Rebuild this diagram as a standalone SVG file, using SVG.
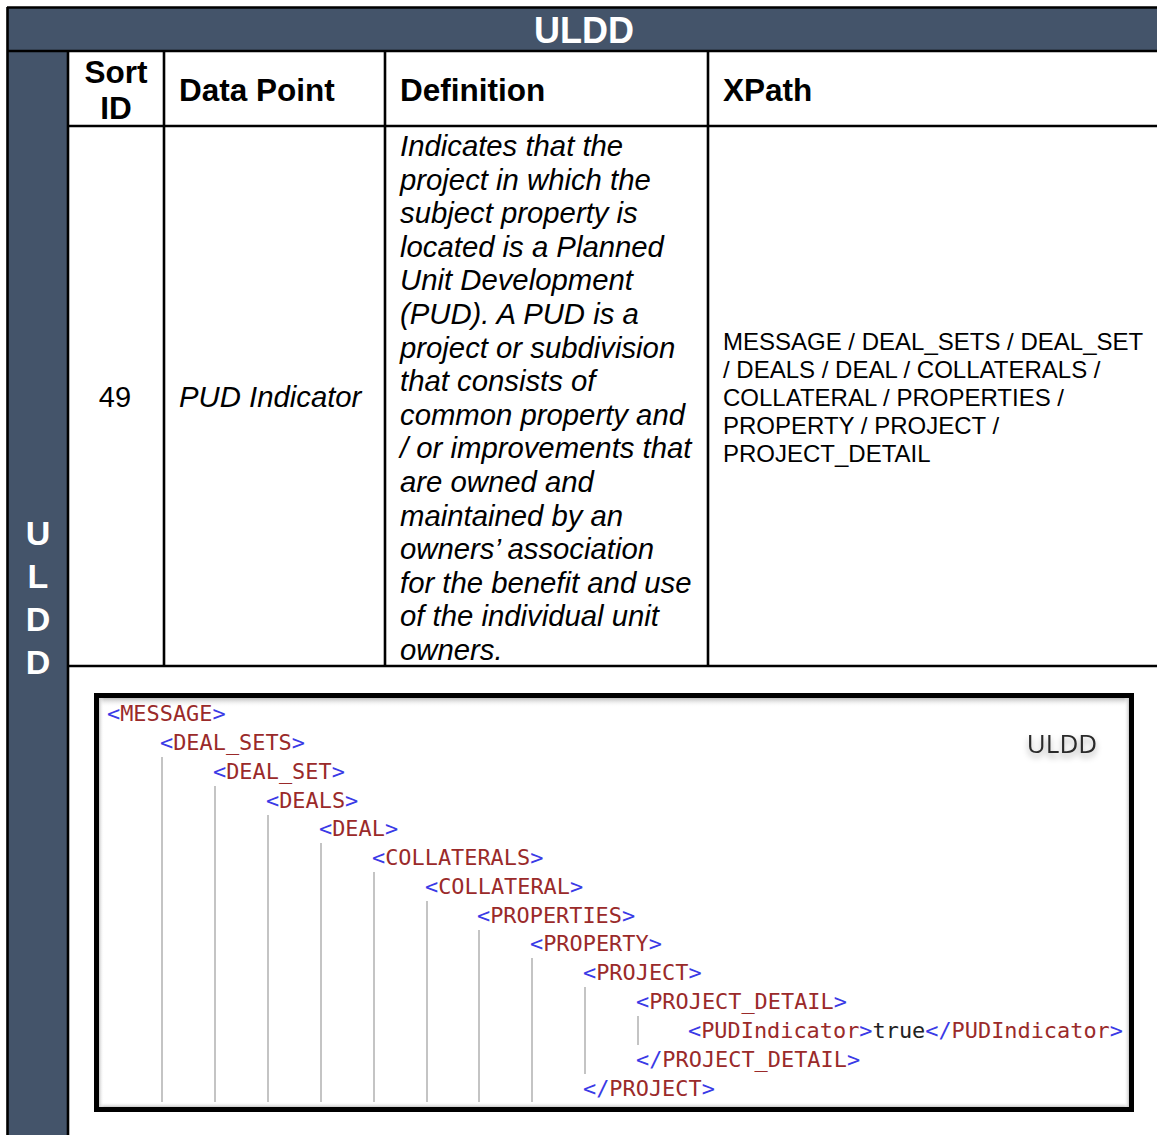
<svg xmlns="http://www.w3.org/2000/svg" width="1157" height="1135" viewBox="0 0 1157 1135">
<defs>
<style>
.grid{stroke:#000;stroke-width:2.6;fill:none}
.hd{font-family:"Liberation Sans",Arial,sans-serif;font-weight:bold;font-size:31.5px;fill:#000}
.wb{font-family:"Liberation Sans",Arial,sans-serif;font-weight:bold;fill:#fff}
.it{font-family:"Liberation Sans",Arial,sans-serif;font-style:italic;font-size:29.3px;fill:#000}
.rg{font-family:"Liberation Sans",Arial,sans-serif;font-size:29px;fill:#000}
.xp{font-family:"Liberation Sans",Arial,sans-serif;font-size:24px;fill:#000}
.x{font-family:"DejaVu Sans Mono","Liberation Mono",monospace;font-size:21.9px}
.b{fill:#3a3ae6}
.n{fill:#9a2a2a}
.v{fill:#222}
.g{stroke:#c4c4c4;stroke-width:2}
</style>
<linearGradient id="gt" x1="0" y1="0" x2="0" y2="1"><stop offset="0" stop-color="#bdbdbd"/><stop offset="1" stop-color="#fff" stop-opacity="0"/></linearGradient>
<linearGradient id="gb" x1="0" y1="1" x2="0" y2="0"><stop offset="0" stop-color="#c8c8c8"/><stop offset="1" stop-color="#fff" stop-opacity="0"/></linearGradient>
<linearGradient id="gl" x1="0" y1="0" x2="1" y2="0"><stop offset="0" stop-color="#c8c8c8"/><stop offset="1" stop-color="#fff" stop-opacity="0"/></linearGradient>
<linearGradient id="gr" x1="1" y1="0" x2="0" y2="0"><stop offset="0" stop-color="#c8c8c8"/><stop offset="1" stop-color="#fff" stop-opacity="0"/></linearGradient>
<filter id="sh" x="-20%" y="-40%" width="140%" height="200%"><feDropShadow dx="0" dy="4" stdDeviation="3" flood-color="#000" flood-opacity="0.35"/></filter>
</defs>
<rect width="1157" height="1135" fill="#fff"/>

<g id="table-frame">
<rect x="7" y="7" width="1150" height="44" fill="#44546A"/>
<rect x="7" y="51" width="61" height="1084" fill="#44546A"/>
<line class="grid" x1="7" y1="7.5" x2="1157" y2="7.5"/>
<line class="grid" x1="7.5" y1="7" x2="7.5" y2="1135"/>
<line class="grid" x1="7" y1="51" x2="1157" y2="51"/>
<line class="grid" x1="68" y1="51" x2="68" y2="1135"/>
<line class="grid" x1="164" y1="51" x2="164" y2="666"/>
<line class="grid" x1="385" y1="51" x2="385" y2="666"/>
<line class="grid" x1="708" y1="51" x2="708" y2="666"/>
<line class="grid" x1="68" y1="126" x2="1157" y2="126"/>
<line class="grid" x1="68" y1="666" x2="1157" y2="666"/>
</g>

<g id="title">
<text class="wb" x="584" y="43" font-size="36" text-anchor="middle">ULDD</text>
</g>

<g id="side-label">
<text class="wb" font-size="34" text-anchor="middle" x="38" y="545">U</text>
<text class="wb" font-size="34" text-anchor="middle" x="38" y="588">L</text>
<text class="wb" font-size="34" text-anchor="middle" x="38" y="631">D</text>
<text class="wb" font-size="34" text-anchor="middle" x="38" y="674">D</text>
</g>

<g id="header-row">
<text class="hd" x="116" y="83" text-anchor="middle">Sort</text>
<text class="hd" x="116" y="119" text-anchor="middle">ID</text>
<text class="hd" x="179" y="101">Data Point</text>
<text class="hd" x="400" y="101">Definition</text>
<text class="hd" x="723" y="101">XPath</text>
</g>

<g id="data-row">
<text class="rg" x="115" y="407" text-anchor="middle">49</text>
<text class="it" x="179" y="407">PUD Indicator</text>
<text class="it" x="400">
<tspan x="400" y="156">Indicates that the</tspan>
<tspan x="400" y="189.6">project in which the</tspan>
<tspan x="400" y="223.2">subject property is</tspan>
<tspan x="400" y="256.8">located is a Planned</tspan>
<tspan x="400" y="290.4">Unit Development</tspan>
<tspan x="400" y="324">(PUD). A PUD is a</tspan>
<tspan x="400" y="357.6">project or subdivision</tspan>
<tspan x="400" y="391.2">that consists of</tspan>
<tspan x="400" y="424.8">common property and</tspan>
<tspan x="400" y="458.4">/ or improvements that</tspan>
<tspan x="400" y="492">are owned and</tspan>
<tspan x="400" y="525.6">maintained by an</tspan>
<tspan x="400" y="559.2">owners’ association</tspan>
<tspan x="400" y="592.8">for the benefit and use</tspan>
<tspan x="400" y="626.4">of the individual unit</tspan>
<tspan x="400" y="660">owners.</tspan>
</text>
<text class="xp">
<tspan x="723" y="350">MESSAGE / DEAL_SETS / DEAL_SET</tspan>
<tspan x="723" y="378">/ DEALS / DEAL / COLLATERALS /</tspan>
<tspan x="723" y="406">COLLATERAL / PROPERTIES /</tspan>
<tspan x="723" y="434">PROPERTY / PROJECT /</tspan>
<tspan x="723" y="462">PROJECT_DETAIL</tspan>
</text>
</g>

<g id="xml-screenshot">
<rect x="96.5" y="695.5" width="1035" height="414" fill="#fff" stroke="#000" stroke-width="5"/>
<rect x="99" y="698" width="1030" height="9" fill="url(#gt)"/>
<rect x="99" y="1102" width="1030" height="5" fill="url(#gb)"/>
<rect x="99" y="698" width="5" height="409" fill="url(#gl)"/>
<rect x="1124" y="698" width="5" height="409" fill="url(#gr)"/>
<text x="1062" y="753" text-anchor="middle" font-family="'Open Sans','Liberation Sans',sans-serif" font-size="26" fill="#2a2a2a" filter="url(#sh)">ULDD</text>

<g id="connectors">
<line class="g" x1="162" y1="757" x2="162" y2="1102"/>
<line class="g" x1="215" y1="786" x2="215" y2="1102"/>
<line class="g" x1="268" y1="815" x2="268" y2="1102"/>
<line class="g" x1="321" y1="843" x2="321" y2="1102"/>
<line class="g" x1="374" y1="872" x2="374" y2="1102"/>
<line class="g" x1="427" y1="901" x2="427" y2="1102"/>
<line class="g" x1="479" y1="930" x2="479" y2="1102"/>
<line class="g" x1="532" y1="958" x2="532" y2="1102"/>
<line class="g" x1="585" y1="987" x2="585" y2="1074"/>
<line class="g" x1="638" y1="1016" x2="638" y2="1045"/>
</g>

<g class="x">
<text x="107" y="721"><tspan class="b">&lt;</tspan><tspan class="n">MESSAGE</tspan><tspan class="b">&gt;</tspan></text>
<text x="160" y="750"><tspan class="b">&lt;</tspan><tspan class="n">DEAL_SETS</tspan><tspan class="b">&gt;</tspan></text>
<text x="213" y="779"><tspan class="b">&lt;</tspan><tspan class="n">DEAL_SET</tspan><tspan class="b">&gt;</tspan></text>
<text x="266" y="808"><tspan class="b">&lt;</tspan><tspan class="n">DEALS</tspan><tspan class="b">&gt;</tspan></text>
<text x="319" y="836"><tspan class="b">&lt;</tspan><tspan class="n">DEAL</tspan><tspan class="b">&gt;</tspan></text>
<text x="372" y="865"><tspan class="b">&lt;</tspan><tspan class="n">COLLATERALS</tspan><tspan class="b">&gt;</tspan></text>
<text x="425" y="894"><tspan class="b">&lt;</tspan><tspan class="n">COLLATERAL</tspan><tspan class="b">&gt;</tspan></text>
<text x="477" y="923"><tspan class="b">&lt;</tspan><tspan class="n">PROPERTIES</tspan><tspan class="b">&gt;</tspan></text>
<text x="530" y="951"><tspan class="b">&lt;</tspan><tspan class="n">PROPERTY</tspan><tspan class="b">&gt;</tspan></text>
<text x="583" y="980"><tspan class="b">&lt;</tspan><tspan class="n">PROJECT</tspan><tspan class="b">&gt;</tspan></text>
<text x="636" y="1009"><tspan class="b">&lt;</tspan><tspan class="n">PROJECT_DETAIL</tspan><tspan class="b">&gt;</tspan></text>
<text x="688" y="1038"><tspan class="b">&lt;</tspan><tspan class="n">PUDIndicator</tspan><tspan class="b">&gt;</tspan><tspan class="v">true</tspan><tspan class="b">&lt;/</tspan><tspan class="n">PUDIndicator</tspan><tspan class="b">&gt;</tspan></text>
<text x="636" y="1067"><tspan class="b">&lt;/</tspan><tspan class="n">PROJECT_DETAIL</tspan><tspan class="b">&gt;</tspan></text>
<text x="583" y="1096"><tspan class="b">&lt;/</tspan><tspan class="n">PROJECT</tspan><tspan class="b">&gt;</tspan></text>
</g>
</g>
</svg>
